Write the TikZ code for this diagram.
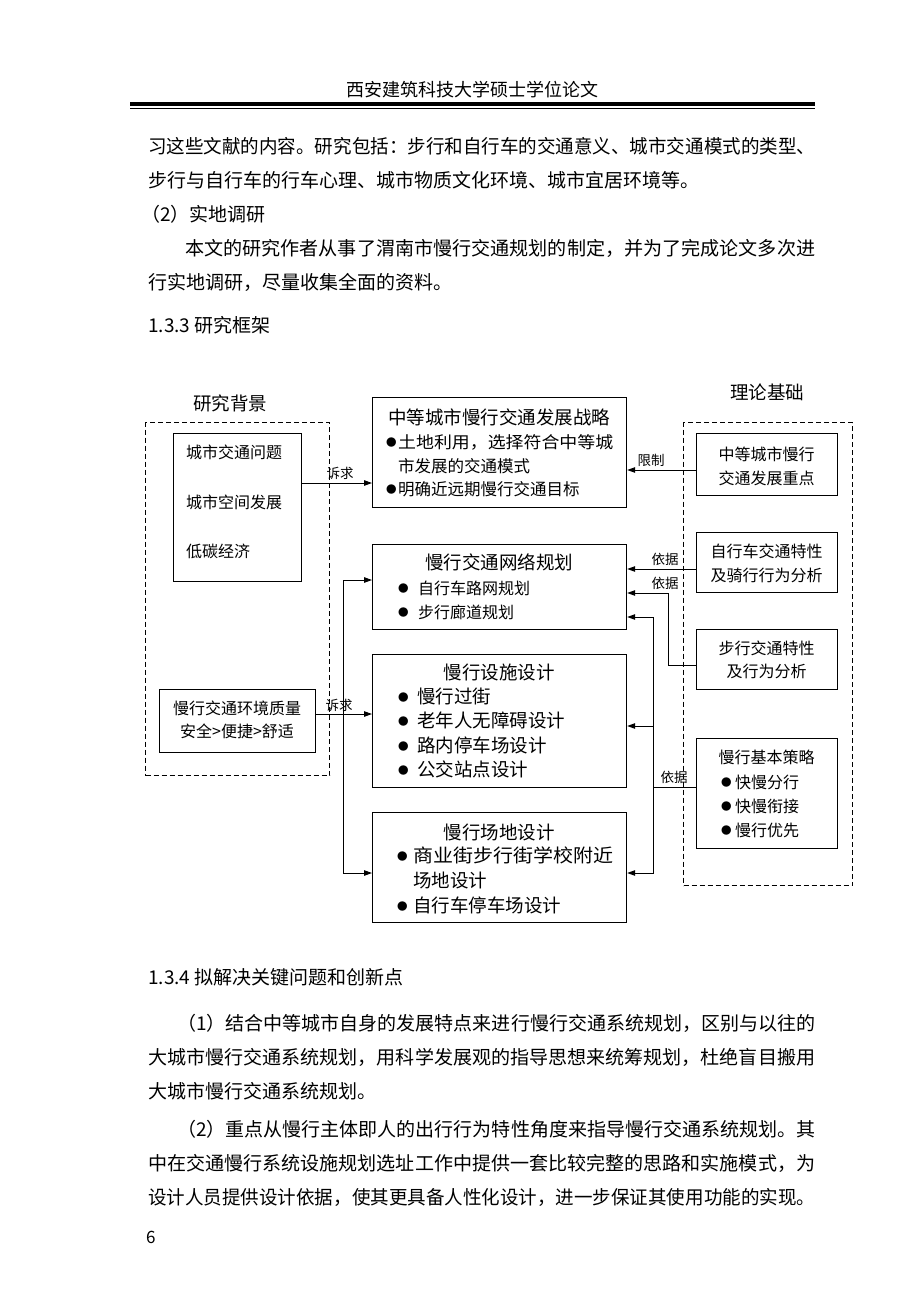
\documentclass[tikz,border=0pt]{standalone}
\usepackage{fontspec}
\usepackage{graphicx}
\setmainfont{Noto Sans CJK SC}
\usetikzlibrary{arrows.meta}

\newcommand{\bodyfont}{\fontsize{19}{19}\selectfont}
\newcommand{\fullline}[2]{\resizebox{#1}{\height}{#2}}
\newcommand{\bul}[1]{\makebox[#1][l]{\raisebox{2pt}{\fontsize{10.5}{10.5}\selectfont ●}}}

\tikzset{
  box/.style={draw, line width=1.2pt, inner sep=0pt, anchor=north west},
  area/.style={draw, line width=1.2pt, dash pattern=on 5pt off 3pt, inner sep=0pt, anchor=north west},
  ttl/.style={font=\fontsize{18.5}{18.5}\selectfont, inner sep=0pt},
  txt/.style={font=\fontsize{16}{23.5}\selectfont, inner sep=0pt, align=center},
  lst/.style={inner sep=0pt, align=left, anchor=west},
  lbl/.style={font=\fontsize{13.5}{13.5}\selectfont, inner sep=0pt},
  para/.style={font=\bodyfont, inner sep=0pt, anchor=base west},
  conn/.style={line width=1pt, -{Triangle[length=8pt,width=5.5pt]}}
}

\begin{document}
\begin{tikzpicture}[x=1pt,y=-1pt]
\fill[white] (0,0) rectangle (920,1308);
\useasboundingbox (0,0) rectangle (920,1308);

% page head
\node[font=\fontsize{18}{18}\selectfont, inner sep=0pt] (hd) at (472,90) {西安建筑科技大学硕士学位论文};
\draw[line width=3.5pt] (130,104) -- (815,104);
\draw[line width=1pt] (130,108.5) -- (815,108.5);

\node[para] (l1) at (148,154) {\fullline{667pt}{习这些文献的内容。研究包括：步行和自行车的交通意义、城市交通模式的类型、}};
\node[para] (l2) at (148,187) {步行与自行车的行车心理、城市物质文化环境、城市宜居环境等。};
\node[para] (l3) at (141,221) {（2）实地调研};
\node[para] (l4) at (185,255) {\fullline{630pt}{本文的研究作者从事了渭南市慢行交通规划的制定，并为了完成论文多次进}};
\node[para] (l5) at (148,289) {行实地调研，尽量收集全面的资料。};
\node[para] (l6) at (148,332) {1.3.3 研究框架};

% framework
\node[ttl] (bgt) at (230,403) {研究背景};
\node[area, minimum width=184pt, minimum height=353pt] (bgarea) at (145,422) {};
\node[box, minimum width=128pt, minimum height=148pt] (bg) at (173,433) {};
\node[lst, font=\fontsize{16}{49.5}\selectfont] (bgl) at (186,502) {城市交通问题\\城市空间发展\\低碳经济};
\node[box, minimum width=156pt, minimum height=63pt] (qual) at (159,689) {};
\node[txt] (qualt) at (237,720) {慢行交通环境质量\\安全>便捷>舒适};

\node[box, minimum width=254pt, minimum height=110pt] (strat) at (372,397) {};
\node[ttl] (stratt) at (499,417) {中等城市慢行交通发展战略};
\node[lst, font=\fontsize{16.5}{23.5}\selectfont] (stratl) at (386,466) {\bul{12pt}\fullline{215pt}{土地利用，选择符合中等城}\\\hspace*{12pt}市发展的交通模式\\\bul{12pt}明确近远期慢行交通目标};

\node[box, minimum width=254pt, minimum height=85pt] (net) at (372,544) {};
\node[ttl] (nett) at (499,562) {慢行交通网络规划};
\node[lst, font=\fontsize{16}{24}\selectfont] (netl) at (398,600) {\bul{20pt}自行车路网规划\\\bul{20pt}步行廊道规划};

\node[box, minimum width=254pt, minimum height=133pt] (fac) at (372,654) {};
\node[ttl] (fact) at (499,672) {慢行设施设计};
\node[lst, font=\fontsize{18.5}{24.3}\selectfont] (facl) at (398,733) {\bul{19pt}慢行过街\\\bul{19pt}老年人无障碍设计\\\bul{19pt}路内停车场设计\\\bul{19pt}公交站点设计};

\node[box, minimum width=254pt, minimum height=110pt] (site) at (372,812) {};
\node[ttl] (sitet) at (499,832) {慢行场地设计};
\node[lst, font=\fontsize{18.5}{25}\selectfont] (sitel) at (397,880) {\bul{16pt}\fullline{200pt}{商业街步行街学校附近}\\\hspace*{16pt}场地设计\\\bul{16pt}自行车停车场设计};

\node[ttl] (tht) at (767,392) {理论基础};
\node[area, minimum width=169pt, minimum height=463pt] (tharea) at (683,422) {};
\node[box, minimum width=141pt, minimum height=62pt] (r1) at (696,433) {};
\node[txt] (r1t) at (766.5,466.5) {中等城市慢行\\交通发展重点};
\node[box, minimum width=141pt, minimum height=60pt] (r2) at (696,532) {};
\node[txt] (r2t) at (766.5,563.5) {自行车交通特性\\及骑行行为分析};
\node[box, minimum width=141pt, minimum height=60pt] (r3) at (696,629) {};
\node[txt] (r3t) at (766.5,660) {步行交通特性\\及行为分析};
\node[box, minimum width=141pt, minimum height=110pt] (r4) at (696,738) {};
\node[txt] (r4t) at (766.5,757) {慢行基本策略};
\node[lst, font=\fontsize{16}{24}\selectfont] (r4l) at (721,806) {\bul{14pt}快慢分行\\\bul{14pt}快慢衔接\\\bul{14pt}慢行优先};

% connectors
\draw[conn] (bg.east |- 0,483) -- (strat.west |- 0,483);
\node[lbl] (d1) at (340,473) {诉求};
\draw[conn] (qual.east |- 0,714) -- (fac.west |- 0,714);
\node[lbl] (d2) at (339,705) {诉求};
\coordinate (lbus) at (343,714);
\draw[conn] (lbus) |- (net.west |- 0,580);
\draw[conn] (lbus) |- (site.west |- 0,873);

\draw[conn] (r1.west |- 0,470) -- (strat.east |- 0,470);
\node[lbl] (d3) at (651,460) {限制};
\draw[conn] (r2.west |- 0,569) -- (net.east |- 0,569);
\node[lbl] (d4) at (665,559) {依据};
\coordinate (rbus1) at (668,593);
\draw[conn] (r3.west |- 0,665) -| (rbus1) -- (net.east |- rbus1);
\node[lbl] (d5) at (665,583) {依据};
\coordinate (rbus2) at (653,787);
\draw[line width=1pt] (r4.west |- rbus2) -- (rbus2);
\draw[conn] (rbus2) |- (net.east |- 0,617);
\draw[conn] (rbus2) |- (site.east |- 0,873);
\draw[conn] (rbus2 |- 0,726) -- (fac.east |- 0,726);
\node[lbl] (d6) at (674,777) {依据};

% text below
\node[para] (h2) at (148,984) {1.3.4 拟解决关键问题和创新点};
\node[para] (b1) at (177,1030) {\fullline{638pt}{（1）结合中等城市自身的发展特点来进行慢行交通系统规划，区别与以往的}};
\node[para] (b2) at (148,1064) {\fullline{667pt}{大城市慢行交通系统规划，用科学发展观的指导思想来统筹规划，杜绝盲目搬用}};
\node[para] (b3) at (148,1098) {大城市慢行交通系统规划。};
\node[para] (b4) at (177,1136) {\fullline{638pt}{（2）重点从慢行主体即人的出行行为特性角度来指导慢行交通系统规划。其}};
\node[para] (b5) at (148,1170) {\fullline{667pt}{中在交通慢行系统设施规划选址工作中提供一套比较完整的思路和实施模式，为}};
\node[para] (b6) at (148,1204) {\fullline{667pt}{设计人员提供设计依据，使其更具备人性化设计，进一步保证其使用功能的实现。}};
\node[para, font=\fontsize{17}{17}\selectfont] (pg) at (146,1243) {6};
\end{tikzpicture}
\end{document}
